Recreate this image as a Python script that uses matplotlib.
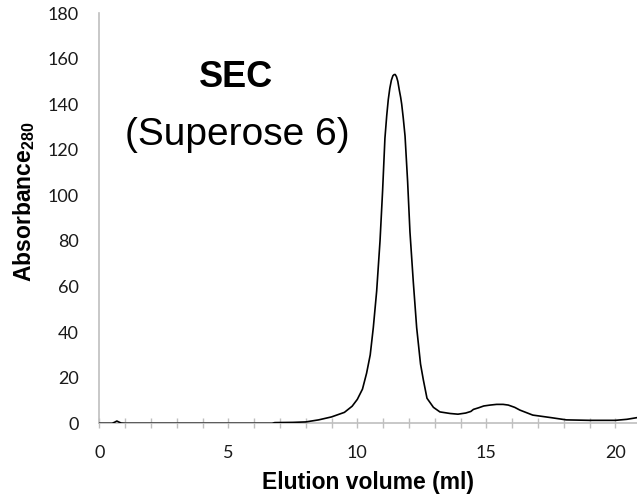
import matplotlib
matplotlib.use("Agg")
import matplotlib.pyplot as plt
from matplotlib.ticker import MultipleLocator

# Elution volume (ml) and absorbance at 280 nm
volume = [0.0, 0.5, 0.6, 0.68, 0.75, 0.85, 1.0, 6.7, 6.8, 7.5, 8.0, 8.5, 9.0, 9.5,
          9.8, 10.0, 10.2, 10.36, 10.5, 10.62, 10.75, 10.88, 10.98, 11.07, 11.14,
          11.2, 11.26, 11.32, 11.38, 11.43, 11.47, 11.52, 11.57, 11.63, 11.68,
          11.72, 11.78, 11.85, 11.95, 12.04, 12.17,
          12.3, 12.45, 12.56, 12.7, 12.95, 13.2, 13.6, 13.9, 14.2, 14.4, 14.5,
          14.7, 14.9, 15.15, 15.4, 15.65, 15.85, 16.1, 16.3, 16.8, 17.5, 18.1,
          19.0, 20.0, 20.45, 20.85]
absorbance = [0.0, 0.0, 0.5, 1.0, 0.6, 0.1, 0.0, 0.0, 0.3, 0.4, 0.6, 1.5, 2.8, 4.8,
              7.5, 10.5, 15.0, 22.0, 30.0, 42.0, 58.0, 80.0, 102.0, 125.0, 135.0,
              142.0, 147.0, 150.5, 152.5, 153.0, 153.0, 152.0, 150.0, 146.0, 143.0,
              140.0, 134.0, 126.0, 106.0, 84.0, 62.0,
              42.0, 26.0, 19.0, 11.0, 7.0, 5.0, 4.3, 4.0, 4.5, 5.2, 6.1,
              6.8, 7.6, 8.0, 8.3, 8.3, 8.0, 7.0, 5.8, 3.6, 2.5, 1.5,
              1.3, 1.3, 1.75, 2.5]

x_major = [0, 5, 10, 15, 20]
y_major = [0, 20, 40, 60, 80, 100, 120, 140, 160, 180]

plt.rcParams["mathtext.fontset"] = "custom"
plt.rcParams["mathtext.bf"] = "Liberation Sans:bold"
plt.rcParams["mathtext.rm"] = "Liberation Sans"

W, H = 637, 495
fig = plt.figure(figsize=(W / 100, H / 100), dpi=100)
ax = fig.add_axes([99.3 / W, (H - 423.3) / H, 1 - 99.3 / W, (423.3 - 13) / H])

ax.plot(volume, absorbance, color="black", lw=1.2, solid_joinstyle="round", zorder=3)

ax.set_xlim(0, 20.84)
ax.set_ylim(0, 180)

grey = "#bfbfbf"
for s in ["top", "right"]:
    ax.spines[s].set_visible(False)
for s in ["left", "bottom"]:
    ax.spines[s].set_color(grey)
    ax.spines[s].set_linewidth(1.2)

ax.set_xticks(x_major)
ax.xaxis.set_minor_locator(MultipleLocator(1))
ax.set_yticks(y_major)

ax.tick_params(axis="x", which="both", direction="inout", length=7.2, width=1.0,
               color=grey, pad=12, labelsize=13, labelcolor="#1a1a1a")
ax.tick_params(axis="y", which="both", length=0, pad=15, labelsize=13, labelcolor="#1a1a1a")
for lab in ax.get_xticklabels() + ax.get_yticklabels():
    lab.set_fontfamily("Lato")

ax.set_xlabel("Elution volume (ml)", fontsize=16.5, fontweight="bold",
              family="Liberation Sans", labelpad=7)
ax.set_ylabel(r"Absorbance$_{\mathbf{280}}$", fontsize=16.5, fontweight="bold",
              family="Liberation Sans")
ax.yaxis.set_label_coords(-0.115, 0.539)

ax.text(5.3, 147.4, "SEC", ha="center", va="baseline", fontsize=26,
        fontweight="bold", family="Liberation Sans")
ax.text(5.35, 121.9, "(Superose 6)", ha="center", va="baseline", fontsize=28,
        family="Liberation Sans")

fig.savefig("out.png", dpi=100)
